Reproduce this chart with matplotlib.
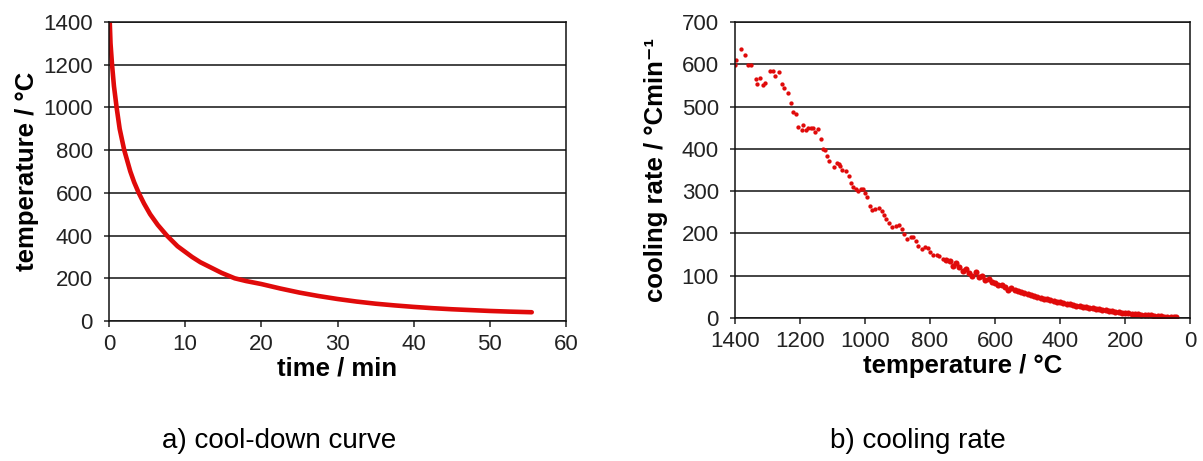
import matplotlib

matplotlib.use("Agg")
import matplotlib.pyplot as plt
import numpy as np

plt.rcParams["font.family"] = ["Liberation Sans", "DejaVu Sans"]

# cool-down curve: time (min) vs temperature (degC)
cool_time = [0.1, 0.2, 0.4, 0.65, 1.0, 1.4, 2.0, 2.4, 2.8, 3.3, 3.9, 4.6, 5.4,
             6.4, 7.6, 9.0, 10.9, 12.0, 13.4, 14.8, 16.5, 18.0, 20, 22.5, 25,
             27.5, 30, 32.5, 35, 37.5, 40, 42.5, 45, 47.5, 50, 52.5, 55.5]
cool_temp = [1400, 1300, 1200, 1100, 1000, 900, 800, 750, 700, 650, 600, 550, 500,
             450, 400, 350, 300, 275, 250, 225, 200, 187, 173, 152, 133,
             117, 103, 91, 81, 73, 66, 60, 55, 51, 47, 44, 41]

# cooling rate, scattered high-temperature part
rate_temp_hi = [1400, 1398, 1382, 1369, 1361, 1351, 1336, 1332, 1324, 1313, 1307,
                1293, 1283, 1276, 1266, 1254, 1248, 1237, 1227, 1221, 1211, 1207,
                1194, 1192, 1182, 1176, 1167, 1159, 1153, 1145, 1136, 1130, 1122,
                1116, 1112, 1095, 1085, 1081, 1077, 1071, 1060, 1050, 1044, 1037,
                1029, 1021, 1013, 1007, 1000, 994, 986, 980, 970, 957, 949, 943,
                935, 926, 916, 906, 895, 887, 879, 871, 860, 852, 844, 836, 825,
                815, 807, 799, 790, 780, 772, 761]
rate_val_hi = [598, 609, 636, 622, 598, 598, 565, 554, 568, 550, 556,
               584, 583, 572, 581, 553, 543, 531, 509, 486, 483, 452,
               444, 457, 444, 450, 449, 449, 440, 446, 424, 400, 397,
               384, 372, 356, 366, 364, 359, 351, 347, 336, 320, 310,
               304, 300, 305, 304, 296, 285, 266, 256, 257, 260, 254, 244,
               233, 224, 215, 218, 219, 210, 199, 187, 191, 192, 183, 171, 163,
               167, 166, 156, 148, 150, 146, 140]

# cooling rate, dense low-temperature part
rate_temp_lo = [750, 740, 730, 720, 710, 700, 690, 680, 670, 660, 650, 640, 630,
                620, 610, 600, 590, 580, 570, 560, 550, 540, 530, 520, 510, 500,
                490, 480, 470, 460, 450, 440, 430, 420, 410, 400, 390, 380, 370,
                360, 350, 340, 330, 320, 310, 300, 290, 280, 270, 260, 250, 240,
                230, 220, 210, 200, 190, 180, 170, 160, 150, 140, 130, 120, 110,
                100, 90, 80, 70, 60, 50, 42]
rate_val_lo = [138, 135, 124, 130, 121, 110, 116, 106, 100, 108, 96, 100, 90,
               92, 85, 82, 79, 77, 73, 66, 70, 66, 63, 61, 59, 56,
               54, 52, 50, 48, 46, 44, 42, 40, 38.5, 37, 35, 33.5, 32,
               30.5, 29, 27.5, 26, 25, 24, 23, 22, 20.5, 19.5, 18.5, 17, 16,
               15, 14, 13, 12, 11, 10.5, 9.5, 8.5, 8, 7, 6.5, 6, 5,
               4.5, 4, 3.5, 3, 2.5, 2, 1.5]

RED = "#e00a0a"
GRID = "#111111"
TICK_SIZE = 16
LABEL_SIZE = 18.5


def style_axes(ax):
    ax.grid(axis="y", color=GRID, linewidth=1.1)
    ax.set_axisbelow(True)
    for side in ["left", "right", "bottom", "top"]:
        ax.spines[side].set_color(GRID)
        ax.spines[side].set_linewidth(1.1)
    ax.tick_params(axis="x", direction="out", length=4.5, width=1.1, pad=5,
                   labelsize=TICK_SIZE, colors="#222222")
    ax.tick_params(axis="y", direction="out", length=3.6, width=1.1, pad=8,
                   labelsize=TICK_SIZE, colors="#222222")


fig = plt.figure(figsize=(12.03, 4.61), dpi=100)

ax1 = fig.add_axes([0.0906, 0.3037, 0.3799, 0.6486])
ax1.plot(cool_time, cool_temp, color=RED, linewidth=3.3, solid_capstyle="round",
         solid_joinstyle="round")
ax1.set_xlim(0, 60)
ax1.set_ylim(0, 1400)
ax1.set_xticks(np.arange(0, 61, 10))
ax1.set_yticks(np.arange(0, 1401, 200))
style_axes(ax1)
ax1.set_xlabel("time / min", fontsize=LABEL_SIZE, fontweight="bold", labelpad=1)
ax1.set_ylabel("temperature / °C", fontsize=LABEL_SIZE, fontweight="bold", labelpad=3)

ax2 = fig.add_axes([0.611, 0.3102, 0.3782, 0.6421])
ax2.plot(rate_temp_hi, rate_val_hi, linestyle="none", marker="o", markersize=3.1,
         color=RED, markeredgewidth=0)
ax2.plot(rate_temp_lo, rate_val_lo, linestyle="none", marker="o", markersize=4.4,
         color=RED, markeredgewidth=0)
ax2.set_xlim(1400, 0)
ax2.set_ylim(0, 700)
ax2.set_xticks(np.arange(1400, -1, -200))
ax2.set_yticks(np.arange(0, 701, 100))
style_axes(ax2)
ax2.set_xlabel("temperature / °C", fontsize=LABEL_SIZE, fontweight="bold", labelpad=1)
ax2.set_ylabel("cooling rate / °Cmin⁻¹", fontsize=LABEL_SIZE, fontweight="bold",
               labelpad=10)

fig.text(279 / 1203, 1 - 441 / 461, "a) cool-down curve", fontsize=20,
         ha="center", va="center")
fig.text(918 / 1203, 1 - 441 / 461, "b) cooling rate", fontsize=20,
         ha="center", va="center")

fig.savefig("out.png", dpi=100)
